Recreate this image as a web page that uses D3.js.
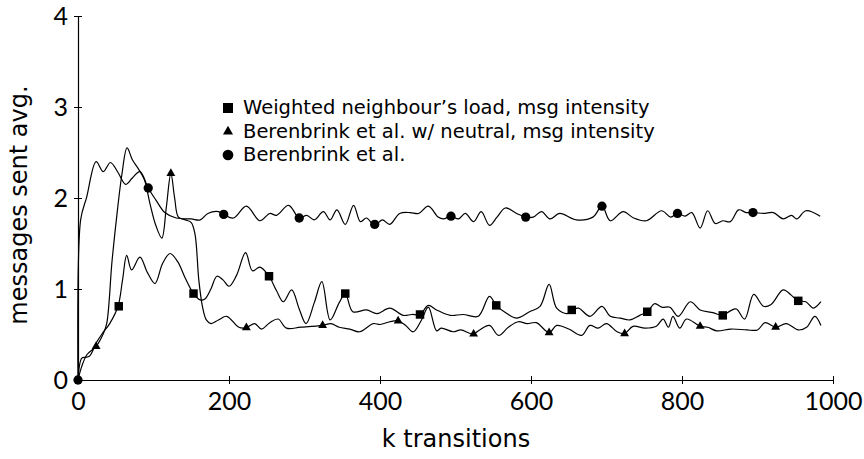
<!DOCTYPE html>
<html>
<head>
<meta charset="utf-8">
<script src="https://cdn.jsdelivr.net/npm/d3@7"></script>
<style>
  body { margin: 0; background: #fff; }
  svg { font-family: "DejaVu Sans", sans-serif; }
</style>
</head>
<body>
<svg width="864" height="459"></svg>
<script>
// data, [k transitions, messages]
var weighted = [[0,0],[5,0.24],[10,0.25],[15,0.26],[25,0.42],[33,0.52],[42,0.62],[53,0.81],[59,1.1],[64.5,1.37],[71,1.21],[82,1.35],[92,1.18],[102,1.06],[112,1.28],[122,1.39],[132,1.3],[142,1.12],[153,0.95],[162,0.88],[168,0.89],[176,1.0],[184,1.14],[192,1.1],[200,1.03],[210,1.15],[222,1.40],[231,1.20],[241,1.24],[253,1.14],[263,0.98],[272,0.86],[283,0.99],[293,0.78],[302,0.62],[313,0.85],[323,1.08],[334,0.66],[346,0.85],[354,0.95],[364,0.75],[382,0.77],[396,0.73],[413,0.79],[431,0.71],[442,0.72],[453,0.72],[464,0.82],[475,0.77],[493,0.71],[510,0.72],[530,0.70],[545,0.92],[554,0.82],[568,0.73],[581,0.68],[598,0.75],[612,0.81],[624,1.05],[634,0.79],[648,0.73],[654,0.77],[663,0.79],[678,0.70],[694,0.81],[705,0.70],[718,0.68],[731,0.66],[744,0.71],[754,0.75],[764,0.84],[773,0.80],[784,0.80],[795,0.70],[811,0.86],[824,0.77],[841,0.74],[854,0.71],[864,0.76],[872,0.78],[883,0.67],[895,0.94],[908,0.81],[918,0.83],[934,0.99],[945,0.93],[954,0.87],[964,0.86],[974,0.79],[984,0.86]];

var neutral = [[0,0],[5,0.15],[12,0.28],[24,0.37],[33,0.5],[38,0.62],[45,1.3],[52,1.85],[58,2.25],[65,2.55],[72,2.42],[80,2.32],[88,2.2],[95,1.95],[103,1.7],[111,1.56],[117,1.9],[123,2.27],[128,2.0],[133,1.79],[142,1.76],[150,1.73],[155,1.6],[160,1.1],[165,0.8],[170,0.66],[176,0.62],[186,0.66],[197,0.70],[213,0.58],[223,0.575],[234,0.62],[243,0.56],[254,0.63],[265,0.67],[276,0.57],[295,0.58],[324,0.60],[335,0.62],[346,0.58],[360,0.56],[373,0.53],[391,0.62],[400,0.61],[413,0.64],[424,0.65],[434,0.6],[444,0.53],[455,0.66],[464,0.80],[475,0.54],[481,0.57],[497,0.53],[507,0.55],[523,0.505],[532,0.55],[545,0.60],[557,0.49],[570,0.58],[583,0.64],[595,0.62],[607,0.63],[624,0.52],[634,0.60],[650,0.56],[667,0.49],[678,0.60],[689,0.57],[700,0.62],[714,0.53],[724,0.51],[735,0.59],[751,0.57],[766,0.59],[775,0.67],[782,0.58],[788,0.70],[797,0.57],[806,0.67],[824,0.59],[834,0.58],[846,0.54],[865,0.56],[886,0.55],[900,0.55],[910,0.63],[924,0.58],[938,0.62],[954,0.55],[965,0.58],[976,0.70],[984,0.60]];

var berenbrink = [[0,0],[3.5,1.76],[11.5,2.01],[24,2.40],[33.5,2.29],[43,2.39],[53,2.28],[63,2.15],[72,2.22],[82,2.29],[93,2.11],[103,1.98],[115,1.84],[130,1.78],[150,1.77],[162,1.76],[172,1.83],[186,1.85],[193,1.82],[206,1.78],[223,1.91],[241,1.75],[254,1.83],[263,1.81],[279,1.92],[293,1.78],[303,1.81],[313,1.76],[325,1.85],[334,1.76],[343,1.87],[354,1.71],[365,1.92],[374,1.74],[382,1.78],[393,1.70],[403,1.76],[413,1.71],[426,1.83],[440,1.84],[451,1.83],[464,1.91],[477,1.79],[484,1.77],[494,1.80],[504,1.77],[513,1.83],[524,1.74],[534,1.85],[545,1.70],[555,1.79],[566,1.89],[581,1.83],[593,1.79],[603,1.79],[614,1.85],[625,1.77],[638,1.83],[660,1.76],[682,1.79],[694,1.91],[705,1.75],[722,1.85],[736,1.78],[753,1.75],[773,1.86],[785,1.79],[794,1.83],[804,1.80],[813,1.84],[824,1.67],[834,1.86],[844,1.72],[854,1.75],[864,1.74],[875,1.87],[885,1.84],[895,1.84],[908,1.83],[921,1.84],[934,1.77],[945,1.81],[952,1.77],[964,1.86],[983,1.80]];

// marker positions
var weightedMarks = [[54,0.81],[153,0.95],[253,1.14],[354,0.95],[453,0.72],[554,0.82],[654,0.77],[754,0.75],[854,0.71],[954,0.87]];
var neutralMarks = [[24,0.37],[123,2.27],[223,0.575],[324,0.60],[424,0.65],[524,0.505],[624,0.52],[724,0.51],[824,0.59],[924,0.58]];
var berenbrinkMarks = [[0,0],[93,2.11],[193,1.82],[293,1.78],[393,1.71],[494,1.80],[593,1.79],[694,1.91],[794,1.83],[894,1.84]];

var legendLabels = ["Weighted neighbour\u2019s load, msg intensity", "Berenbrink et al. w/ neutral, msg intensity", "Berenbrink et al."];
var xTicks = [0, 200, 400, 600, 800, 1000];
var yTicks = [0, 1, 2, 3, 4];

var svg = d3.select('svg');

var scaleX = d3.scaleLinear().domain([0, 1000]).range([78, 833]);
var scaleY = d3.scaleLinear().domain([0, 4]).range([380, 16]);

var line = d3.line()
    .x(function(d) { return scaleX(d[0]); })
    .y(function(d) { return scaleY(d[1]); })
    .curve(d3.curveCatmullRom.alpha(0.5));

// axes, ticks cross the axis line
var xAxis = svg.append('g')
    .attr('transform', 'translate(0,' + scaleY(0) + ')')
    .call(d3.axisBottom(scaleX).tickValues(xTicks).tickFormat(d3.format('d')).tickSizeOuter(0).tickSizeInner(4).tickPadding(8));
var yAxis = svg.append('g')
    .attr('transform', 'translate(' + scaleX(0) + ',0)')
    .call(d3.axisLeft(scaleY).tickValues(yTicks).tickFormat(d3.format('d')).tickSizeOuter(0).tickSizeInner(4).tickPadding(6));

xAxis.selectAll('.tick line').attr('y1', -4).attr('y2', 4);
yAxis.selectAll('.tick line').attr('x1', -4).attr('x2', 4);
svg.selectAll('.domain').attr('stroke', '#000').attr('stroke-width', 1.2);
svg.selectAll('.tick line').attr('stroke', '#000').attr('stroke-width', 1);
svg.selectAll('.tick text').attr('font-size', 25).attr('font-family', 'Lato').attr('fill', '#000');

// lines
[weighted, neutral, berenbrink].forEach(function(s) {
    svg.append('path')
        .datum(s)
        .attr('d', line)
        .attr('fill', 'none')
        .attr('stroke', '#000')
        .attr('stroke-width', 1.2);
});

// markers
var sq = d3.symbol().type(d3.symbolSquare).size(72);
var tri = d3.symbol().type(d3.symbolTriangle).size(34);
var circ = d3.symbol().type(d3.symbolCircle).size(68);

function drawMarks(data, sym) {
    svg.append('g').selectAll('path')
        .data(data)
        .enter()
        .append('path')
        .attr('d', sym)
        .attr('transform', function(d) { return 'translate(' + scaleX(d[0]) + ',' + scaleY(d[1]) + ')'; })
        .attr('fill', '#000');
}
drawMarks(weightedMarks, sq);
drawMarks(neutralMarks, tri);
drawMarks(berenbrinkMarks, circ);

// legend
var legendSyms = [d3.symbol().type(d3.symbolSquare).size(100), d3.symbol().type(d3.symbolTriangle).size(44), d3.symbol().type(d3.symbolCircle).size(90)];
var legend = svg.append('g').attr('transform', 'translate(228,108)');
legendLabels.forEach(function(t, i) {
    legend.append('path')
        .attr('d', legendSyms[i])
        .attr('transform', 'translate(0,' + (i * 23.5) + ')')
        .attr('fill', '#000');
    legend.append('text')
        .attr('x', 15)
        .attr('y', i * 23.5 + 6)
        .attr('font-size', 19.5)
        .text(t);
});

// axis titles
svg.append('text')
    .attr('x', 456)
    .attr('y', 447)
    .attr('text-anchor', 'middle')
    .attr('font-size', 24)
    .text('k transitions');

svg.append('text')
    .attr('transform', 'translate(27,205) rotate(270)')
    .attr('text-anchor', 'middle')
    .attr('font-size', 24)
    .text('messages sent avg.');
</script>
</body>
</html>
